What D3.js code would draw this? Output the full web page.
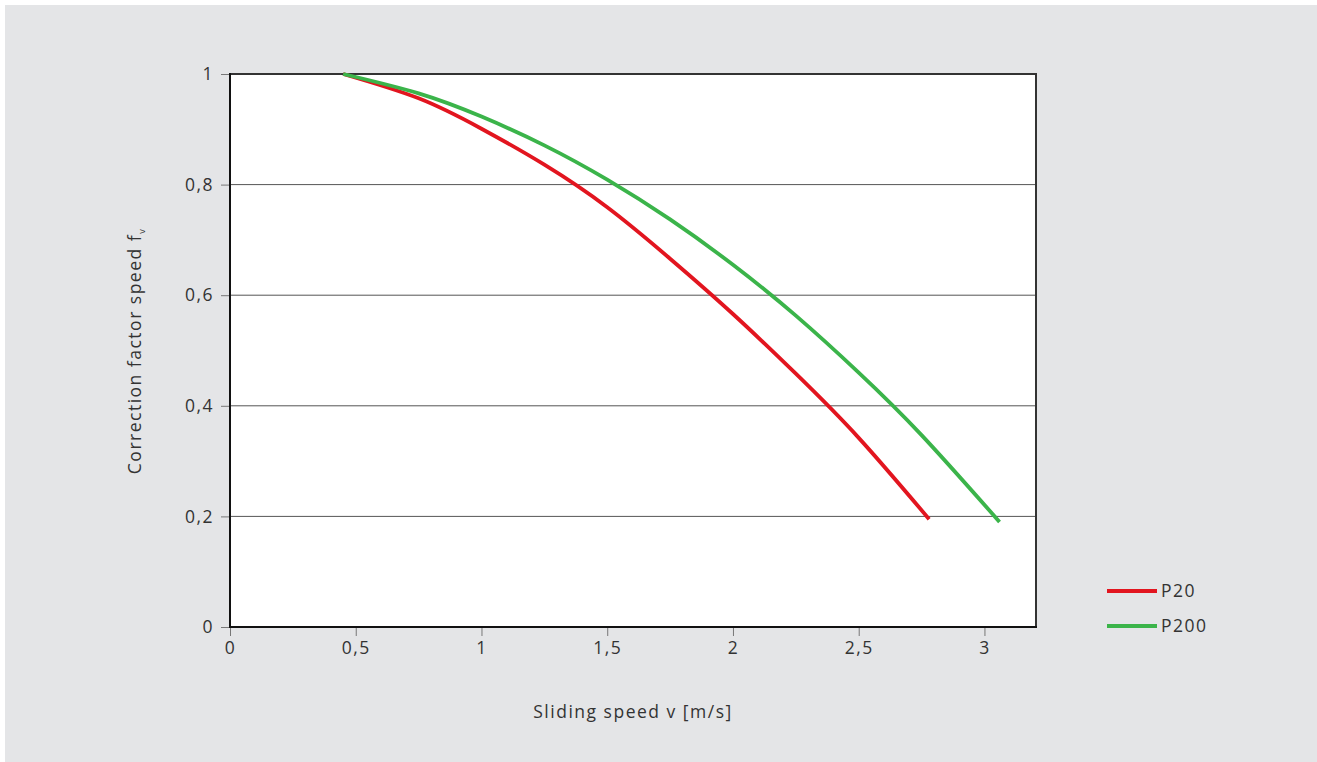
<!DOCTYPE html>
<html><head><meta charset="utf-8">
<script src="https://cdn.jsdelivr.net/npm/d3@7"></script>
<style>
html,body{margin:0;padding:0;background:#fff;}
svg{display:block;font-family:"Open Sans","Noto Sans",sans-serif;}
</style></head>
<body><svg id="c" width="1317" height="762"></svg>
<script>
const xTicks = [0, 0.5, 1, 1.5, 2, 2.5, 3];
const xTickLabels = ["0", "0,5", "1", "1,5", "2", "2,5", "3"];
const yTicks = [0, 0.2, 0.4, 0.6, 0.8, 1];
const yTickLabels = ["0", "0,2", "0,4", "0,6", "0,8", "1"];
const seriesNames = ["P20", "P200"];
const seriesColors = ["#e2151f", "#3bb44a"];
const p20X = [0.45, 0.75, 1.0, 1.25, 1.5, 1.75, 2.0, 2.25, 2.5, 2.78];
const p20Y = [1.0, 0.956, 0.901, 0.836, 0.759, 0.666, 0.566, 0.458, 0.342, 0.195];
const p200X = [0.45, 0.75, 1.0, 1.25, 1.5, 1.75, 2.0, 2.25, 2.5, 2.75, 3.06];
const p200Y = [1.0, 0.965, 0.923, 0.871, 0.809, 0.737, 0.655, 0.563, 0.460, 0.347, 0.19];

const svg = d3.select("#c");
svg.append("rect").attr("x", 5).attr("y", 5).attr("width", 1312).attr("height", 757).attr("fill", "#e4e5e7");

const L = 230, R = 1036, T = 74, B = 627;
const x = d3.scaleLinear().domain([0, 3.205]).range([L, R]);
const y = d3.scaleLinear().domain([0, 1]).range([B, T]);

svg.append("rect").attr("x", L).attr("y", T).attr("width", R - L).attr("height", B - T).attr("fill", "#fff");

// gridlines
svg.append("g").selectAll("line").data(yTicks.filter(d => d > 0 && d < 1)).join("line")
  .attr("x1", L).attr("x2", R).attr("y1", d => y(d)).attr("y2", d => y(d))
  .attr("stroke", "#555").attr("stroke-width", 1);

const fontAttrs = sel => sel.attr("font-size", 17.5).attr("fill", "#333")
  .attr("font-family", "Open Sans").attr("letter-spacing", "1.5px");

// axes
const xAxis = d3.axisBottom(x).tickValues(xTicks).tickFormat((d, i) => xTickLabels[i]).tickSize(9).tickPadding(6);
const gx = svg.append("g").attr("transform", `translate(0,${B})`).call(xAxis);
gx.select(".domain").remove();
gx.selectAll("line").attr("stroke", "#777").attr("stroke-width", 1);
gx.selectAll("text").call(fontAttrs);

const yAxis = d3.axisLeft(y).tickValues(yTicks).tickFormat((d, i) => yTickLabels[i]).tickSize(9).tickPadding(7);
const gy = svg.append("g").attr("transform", `translate(${L},0)`).call(yAxis);
gy.select(".domain").remove();
gy.selectAll("line").attr("stroke", "#777").attr("stroke-width", 1);
gy.selectAll("text").call(fontAttrs);

// frame
svg.append("line").attr("x1", L).attr("x2", R + 1).attr("y1", T).attr("y2", T).attr("stroke", "#333").attr("stroke-width", 2);
svg.append("line").attr("x1", R).attr("x2", R).attr("y1", T).attr("y2", B).attr("stroke", "#333").attr("stroke-width", 2);
svg.append("line").attr("x1", L).attr("x2", R + 1).attr("y1", B).attr("y2", B).attr("stroke", "#111").attr("stroke-width", 2);
svg.append("line").attr("x1", L).attr("x2", L).attr("y1", T - 1).attr("y2", B + 1).attr("stroke", "#111").attr("stroke-width", 2);

// curves
const line = d3.line().x(d => x(d[0])).y(d => y(d[1])).curve(d3.curveNatural);
const series = [d3.zip(p20X, p20Y), d3.zip(p200X, p200Y)];
series.forEach((s, i) => {
  svg.append("path").datum(s).attr("d", line).attr("fill", "none")
    .attr("stroke", seriesColors[i]).attr("stroke-width", 3.8);
});

// legend
seriesNames.forEach((n, i) => {
  const ly = 591 + i * 35;
  svg.append("line").attr("x1", 1107).attr("x2", 1157).attr("y1", ly).attr("y2", ly)
    .attr("stroke", seriesColors[i]).attr("stroke-width", 4);
  svg.append("text").attr("x", 1161).attr("y", ly + 6).call(fontAttrs).text(n);
});

// axis titles
svg.append("text").attr("x", 633).attr("y", 718).attr("text-anchor", "middle")
  .call(fontAttrs).text("Sliding speed v [m/s]");
const yt = svg.append("text").attr("transform", "translate(141,351) rotate(-90)").attr("text-anchor", "middle")
  .call(fontAttrs);
yt.append("tspan").text("Correction factor speed f");
yt.append("tspan").attr("font-size", 9).attr("dy", 4).text("v");
</script></body></html>
